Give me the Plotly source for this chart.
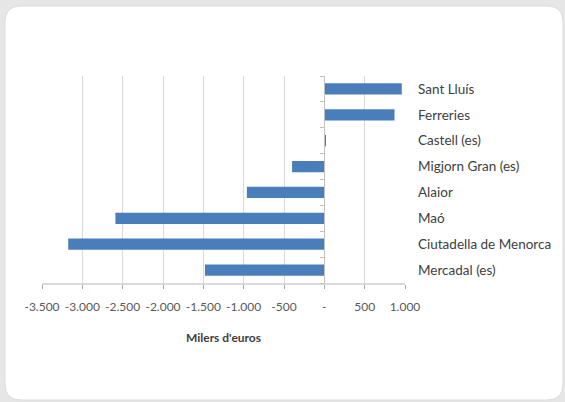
import plotly.graph_objects as go

# Data (top to bottom)
municipis = ["Sant Lluís", "Ferreries", "Castell (es)", "Migjorn Gran (es)", "Alaior",
             "Maó", "Ciutadella de Menorca", "Mercadal (es)"]
valors = [960, 870, 15, -400, -960, -2590, -3175, -1480]

tick_vals = [-3500, -3000, -2500, -2000, -1500, -1000, -500, 0, 500, 1000]
tick_text = ["-3.500", "-3.000", "-2.500", "-2.000", "-1.500", "-1.000", "-500", "-", "500", "1.000"]

W, H = 565, 402
L, R, T, B = 42, 160, 76, 119
pw, ph = W - L - R, H - T - B
x_range = [-3500, 1000]


def px(x):
    return (x - L) / pw


def py(y):
    return (H - B - y) / ph


def card_path(x0, y0, x1, y1, r):
    pts = [
        ("M", [(x0 + r, y0)]),
        ("L", [(x1 - r, y0)]),
        ("Q", [(x1, y0), (x1, y0 + r)]),
        ("L", [(x1, y1 - r)]),
        ("Q", [(x1, y1), (x1 - r, y1)]),
        ("L", [(x0 + r, y1)]),
        ("Q", [(x0, y1), (x0, y1 - r)]),
        ("L", [(x0, y0 + r)]),
        ("Q", [(x0, y0), (x0 + r, y0)]),
    ]
    s = ""
    for cmd, ps in pts:
        s += cmd + " " + " ".join(f"{px(a):.5f},{py(b):.5f}" for a, b in ps) + " "
    return s + "Z"


fig = go.Figure()
fig.add_trace(go.Bar(
    y=municipis, x=valors, orientation="h",
    marker=dict(color="#4a7ebb", line=dict(width=0)),
    hoverinfo="x+y",
))
# helper trace for the zero axis with boundary ticks
fig.add_trace(go.Scatter(x=[0], y=[0], yaxis="y2", mode="markers",
                         marker=dict(opacity=0), hoverinfo="skip", showlegend=False))

zero_pos = (0 - x_range[0]) / (x_range[1] - x_range[0])
n = len(municipis)

fig.update_layout(
    width=W, height=H,
    margin=dict(l=L, r=R, t=T, b=B),
    paper_bgcolor="#e6e6e6",
    plot_bgcolor="rgba(0,0,0,0)",
    showlegend=False,
    bargap=0.57,
    font=dict(family="Lato, Open Sans, sans-serif", color="#595959"),
    xaxis=dict(
        range=x_range, tickvals=tick_vals, ticktext=tick_text,
        showgrid=True, gridcolor="#d9d9d9", gridwidth=1,
        zeroline=False,
        showline=True, linecolor="#d9d9d9", linewidth=2,
        ticks="outside", ticklen=4, tickcolor="#a6a6a6", tickwidth=1,
        ticklabelstandoff=8,
        tickfont=dict(size=12, color="#595959"),
        title=dict(text="<b>Milers d'euros</b>", font=dict(size=12, color="#404040"), standoff=20),
        fixedrange=True,
    ),
    yaxis=dict(
        type="category", categoryarray=municipis, categoryorder="array",
        autorange="reversed", side="right",
        showgrid=False, zeroline=False, showline=False, ticks="",
        ticklabelstandoff=12,
        tickfont=dict(size=13.5, color="#404040"),
        fixedrange=True,
    ),
    yaxis2=dict(
        overlaying="y", anchor="free", position=zero_pos, side="left",
        range=[n - 0.5, -0.5],
        tickvals=[i - 0.5 for i in range(n + 1)],
        showticklabels=False, showgrid=False, zeroline=False,
        showline=True, linecolor="#bfbfbf", linewidth=1,
        ticks="outside", ticklen=4, tickcolor="#bfbfbf",
        fixedrange=True,
    ),
    shapes=[dict(
        type="path", xref="paper", yref="paper", layer="below",
        path=card_path(5, 6, 563, 400, 16),
        fillcolor="white", line=dict(color="#dcdcdc", width=1),
    )],
)

fig.write_html("out.html", config={"displayModeBar": False},
               post_script="document.body.style.margin='0';document.body.style.overflow='hidden';")
